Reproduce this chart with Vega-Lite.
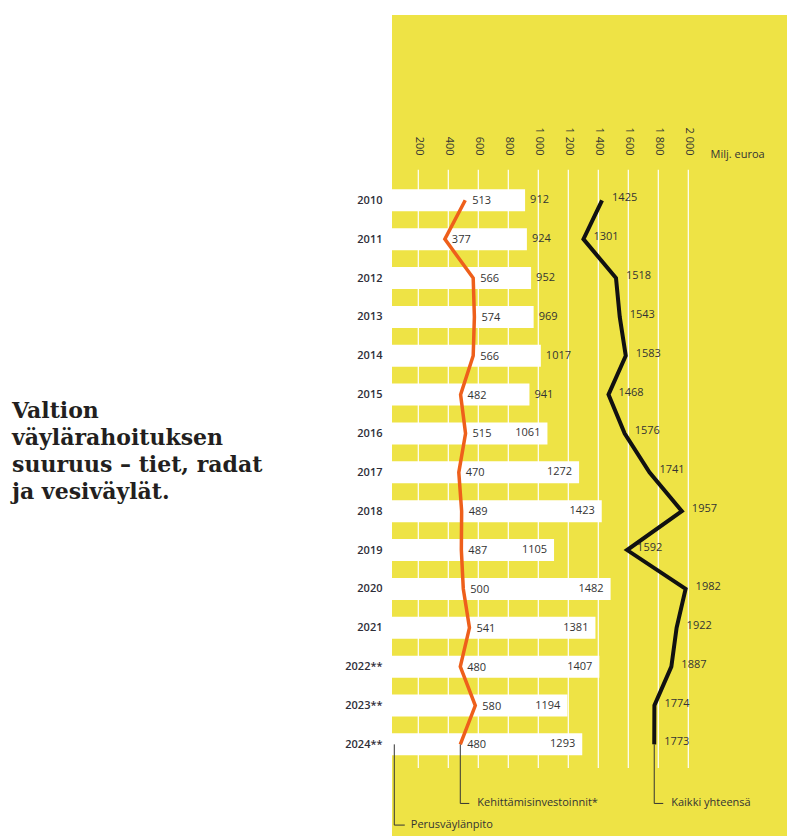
{
  "$schema": "https://vega.github.io/schema/vega-lite/v6.json",
  "width": 395,
  "height": 821,
  "autosize": {"type": "none"},
  "padding": {"left": 392, "top": 15, "right": 0, "bottom": 0},
  "background": "#ffffff",
  "title": {
    "text": ["Valtion", "väylärahoituksen", "suuruus – tiet, radat", "ja vesiväylät."],
    "anchor": "start",
    "frame": "group",
    "orient": "top",
    "font": "DejaVu Serif",
    "fontSize": 22,
    "fontWeight": "bold",
    "color": "#231f20",
    "lineHeight": 27,
    "baseline": "alphabetic",
    "offset": 0,
    "dx": -380,
    "dy": 506
  },
  "config": {
    "view": {"fill": "#EEE345", "stroke": null},
    "font": "Open Sans",
    "axis": {"grid": false, "ticks": false, "domain": false, "tickSize": 0}
  },
  "datasets": {
    "rahoitus": [
      {"year": 2010, "perus": 912, "kehitt": 513, "total": 1425},
      {"year": 2011, "perus": 924, "kehitt": 377, "total": 1301},
      {"year": 2012, "perus": 952, "kehitt": 566, "total": 1518},
      {"year": 2013, "perus": 969, "kehitt": 574, "total": 1543},
      {"year": 2014, "perus": 1017, "kehitt": 566, "total": 1583},
      {"year": 2015, "perus": 941, "kehitt": 482, "total": 1468},
      {"year": 2016, "perus": 1061, "kehitt": 515, "total": 1576},
      {"year": 2017, "perus": 1272, "kehitt": 470, "total": 1741},
      {"year": 2018, "perus": 1423, "kehitt": 489, "total": 1957},
      {"year": 2019, "perus": 1105, "kehitt": 487, "total": 1592},
      {"year": 2020, "perus": 1482, "kehitt": 500, "total": 1982},
      {"year": 2021, "perus": 1381, "kehitt": 541, "total": 1922},
      {"year": 2022, "perus": 1407, "kehitt": 480, "total": 1887},
      {"year": 2023, "perus": 1194, "kehitt": 580, "total": 1774},
      {"year": 2024, "perus": 1293, "kehitt": 480, "total": 1773}
    ],
    "grid": [
      {"v": 200}, {"v": 400}, {"v": 600}, {"v": 800}, {"v": 1000},
      {"v": 1200}, {"v": 1400}, {"v": 1600}, {"v": 1800}, {"v": 2000}
    ]
  },
  "layer": [
    {
      "data": {"name": "grid"},
      "mark": {"type": "rule", "stroke": "#ffffff", "strokeWidth": 1.2},
      "encoding": {
        "x": {
          "field": "v",
          "type": "quantitative",
          "scale": {"domain": [24.7, 2658], "nice": false, "zero": false},
          "axis": {
            "orient": "top",
            "values": [200, 400, 600, 800, 1000, 1200, 1400, 1600, 1800, 2000],
            "labelExpr": "replace(format(datum.value, ','), ',', ' ')",
            "labelAngle": 90,
            "labelAlign": "right",
            "labelBaseline": "middle",
            "labelPadding": 5,
            "labelFontSize": 11,
            "labelColor": "#333333",
            "labelFont": "Open Sans",
            "ticks": false,
            "tickSize": 0,
            "domain": false,
            "grid": false,
            "offset": -145,
            "title": "Milj. euroa",
            "titleAngle": 0,
            "titleAlign": "left",
            "titleBaseline": "middle",
            "titleX": 318,
            "titleY": -6,
            "titleFont": "Open Sans",
            "titleFontSize": 11,
            "titleFontWeight": "normal",
            "titleColor": "#333333"
          }
        },
        "y": {"datum": 2009.217, "type": "quantitative"},
        "y2": {"datum": 2024.61}
      }
    },
    {
      "data": {"name": "rahoitus"},
      "mark": {"type": "bar", "orient": "horizontal", "color": "#ffffff", "size": 22},
      "encoding": {
        "x": {"field": "perus", "type": "quantitative"},
        "y": {
          "field": "year",
          "type": "quantitative",
          "scale": {"domain": [2005.361, 2026.229], "reverse": true, "nice": false, "zero": false},
          "axis": {
            "orient": "left",
            "values": [2010, 2011, 2012, 2013, 2014, 2015, 2016, 2017, 2018, 2019, 2020, 2021, 2022, 2023, 2024],
            "labelExpr": "datum.value >= 2022 ? format(datum.value, 'd') + '**' : format(datum.value, 'd')",
            "labelFont": "Open Sans",
            "labelFontSize": 11,
            "labelFontWeight": 600,
            "labelColor": "#2e2e38",
            "labelPadding": 10,
            "labelAlign": "right",
            "labelBaseline": "middle",
            "ticks": false,
            "tickSize": 0,
            "domain": false,
            "grid": false,
            "title": null
          }
        }
      }
    },
    {
      "data": {"name": "rahoitus"},
      "transform": [{"filter": "datum.year <= 2015"}],
      "mark": {"type": "text", "align": "left", "baseline": "middle", "dx": 5, "fontSize": 11, "color": "#333333"},
      "encoding": {
        "x": {"field": "perus", "type": "quantitative"},
        "y": {"field": "year", "type": "quantitative"},
        "text": {"field": "perus", "type": "quantitative", "format": "d"}
      }
    },
    {
      "data": {"name": "rahoitus"},
      "transform": [{"filter": "datum.year >= 2016"}],
      "mark": {"type": "text", "align": "right", "baseline": "middle", "dx": -7, "fontSize": 11, "color": "#333333"},
      "encoding": {
        "x": {"field": "perus", "type": "quantitative"},
        "y": {"field": "year", "type": "quantitative"},
        "text": {"field": "perus", "type": "quantitative", "format": "d"}
      }
    },
    {
      "data": {"name": "rahoitus"},
      "mark": {"type": "line", "stroke": "#EE5F1B", "strokeWidth": 3.5},
      "encoding": {
        "x": {"field": "kehitt", "type": "quantitative"},
        "y": {"field": "year", "type": "quantitative"},
        "order": {"field": "year", "type": "quantitative"}
      }
    },
    {
      "data": {"name": "rahoitus"},
      "mark": {"type": "text", "align": "left", "baseline": "middle", "dx": 7, "dy": 1, "fontSize": 11, "color": "#333333"},
      "encoding": {
        "x": {"field": "kehitt", "type": "quantitative"},
        "y": {"field": "year", "type": "quantitative"},
        "text": {"field": "kehitt", "type": "quantitative", "format": "d"}
      }
    },
    {
      "data": {"name": "rahoitus"},
      "mark": {"type": "line", "stroke": "#111111", "strokeWidth": 4},
      "encoding": {
        "x": {"field": "total", "type": "quantitative"},
        "y": {"field": "year", "type": "quantitative"},
        "order": {"field": "year", "type": "quantitative"}
      }
    },
    {
      "data": {"name": "rahoitus"},
      "mark": {"type": "text", "align": "left", "baseline": "middle", "dx": 10, "dy": -2, "fontSize": 11, "color": "#333333"},
      "encoding": {
        "x": {"field": "total", "type": "quantitative"},
        "y": {"field": "year", "type": "quantitative"},
        "text": {"field": "total", "type": "quantitative", "format": "d"}
      }
    },
    {
      "data": {"values": [{}]},
      "mark": {"type": "rule", "stroke": "#333333", "strokeWidth": 1},
      "encoding": {
        "x": {"datum": 40, "type": "quantitative"},
        "y": {"datum": 2024, "type": "quantitative"},
        "y2": {"datum": 2026.077}
      }
    },
    {
      "data": {"values": [{}]},
      "mark": {"type": "rule", "stroke": "#333333", "strokeWidth": 1},
      "encoding": {
        "x": {"datum": 40, "type": "quantitative"},
        "x2": {"datum": 110},
        "y": {"datum": 2026.077, "type": "quantitative"}
      }
    },
    {
      "data": {"values": [{}]},
      "mark": {"type": "text", "align": "left", "baseline": "middle", "dx": 6, "fontSize": 11, "color": "#333333", "text": "Perusväylänpito"},
      "encoding": {
        "x": {"datum": 110, "type": "quantitative"},
        "y": {"datum": 2026.077, "type": "quantitative"}
      }
    },
    {
      "data": {"values": [{}]},
      "mark": {"type": "rule", "stroke": "#333333", "strokeWidth": 1},
      "encoding": {
        "x": {"datum": 480, "type": "quantitative"},
        "y": {"datum": 2024, "type": "quantitative"},
        "y2": {"datum": 2025.52}
      }
    },
    {
      "data": {"values": [{}]},
      "mark": {"type": "rule", "stroke": "#333333", "strokeWidth": 1},
      "encoding": {
        "x": {"datum": 480, "type": "quantitative"},
        "x2": {"datum": 540},
        "y": {"datum": 2025.52, "type": "quantitative"}
      }
    },
    {
      "data": {"values": [{}]},
      "mark": {"type": "text", "align": "left", "baseline": "middle", "dx": 8, "fontSize": 11, "color": "#333333", "text": "Kehittämisinvestoinnit*"},
      "encoding": {
        "x": {"datum": 540, "type": "quantitative"},
        "y": {"datum": 2025.52, "type": "quantitative"}
      }
    },
    {
      "data": {"values": [{}]},
      "mark": {"type": "rule", "stroke": "#333333", "strokeWidth": 1},
      "encoding": {
        "x": {"datum": 1773, "type": "quantitative"},
        "y": {"datum": 2024, "type": "quantitative"},
        "y2": {"datum": 2025.52}
      }
    },
    {
      "data": {"values": [{}]},
      "mark": {"type": "rule", "stroke": "#333333", "strokeWidth": 1},
      "encoding": {
        "x": {"datum": 1773, "type": "quantitative"},
        "x2": {"datum": 1833},
        "y": {"datum": 2025.52, "type": "quantitative"}
      }
    },
    {
      "data": {"values": [{}]},
      "mark": {"type": "text", "align": "left", "baseline": "middle", "dx": 8, "fontSize": 11, "color": "#333333", "text": "Kaikki yhteensä"},
      "encoding": {
        "x": {"datum": 1833, "type": "quantitative"},
        "y": {"datum": 2025.52, "type": "quantitative"}
      }
    }
  ]
}
